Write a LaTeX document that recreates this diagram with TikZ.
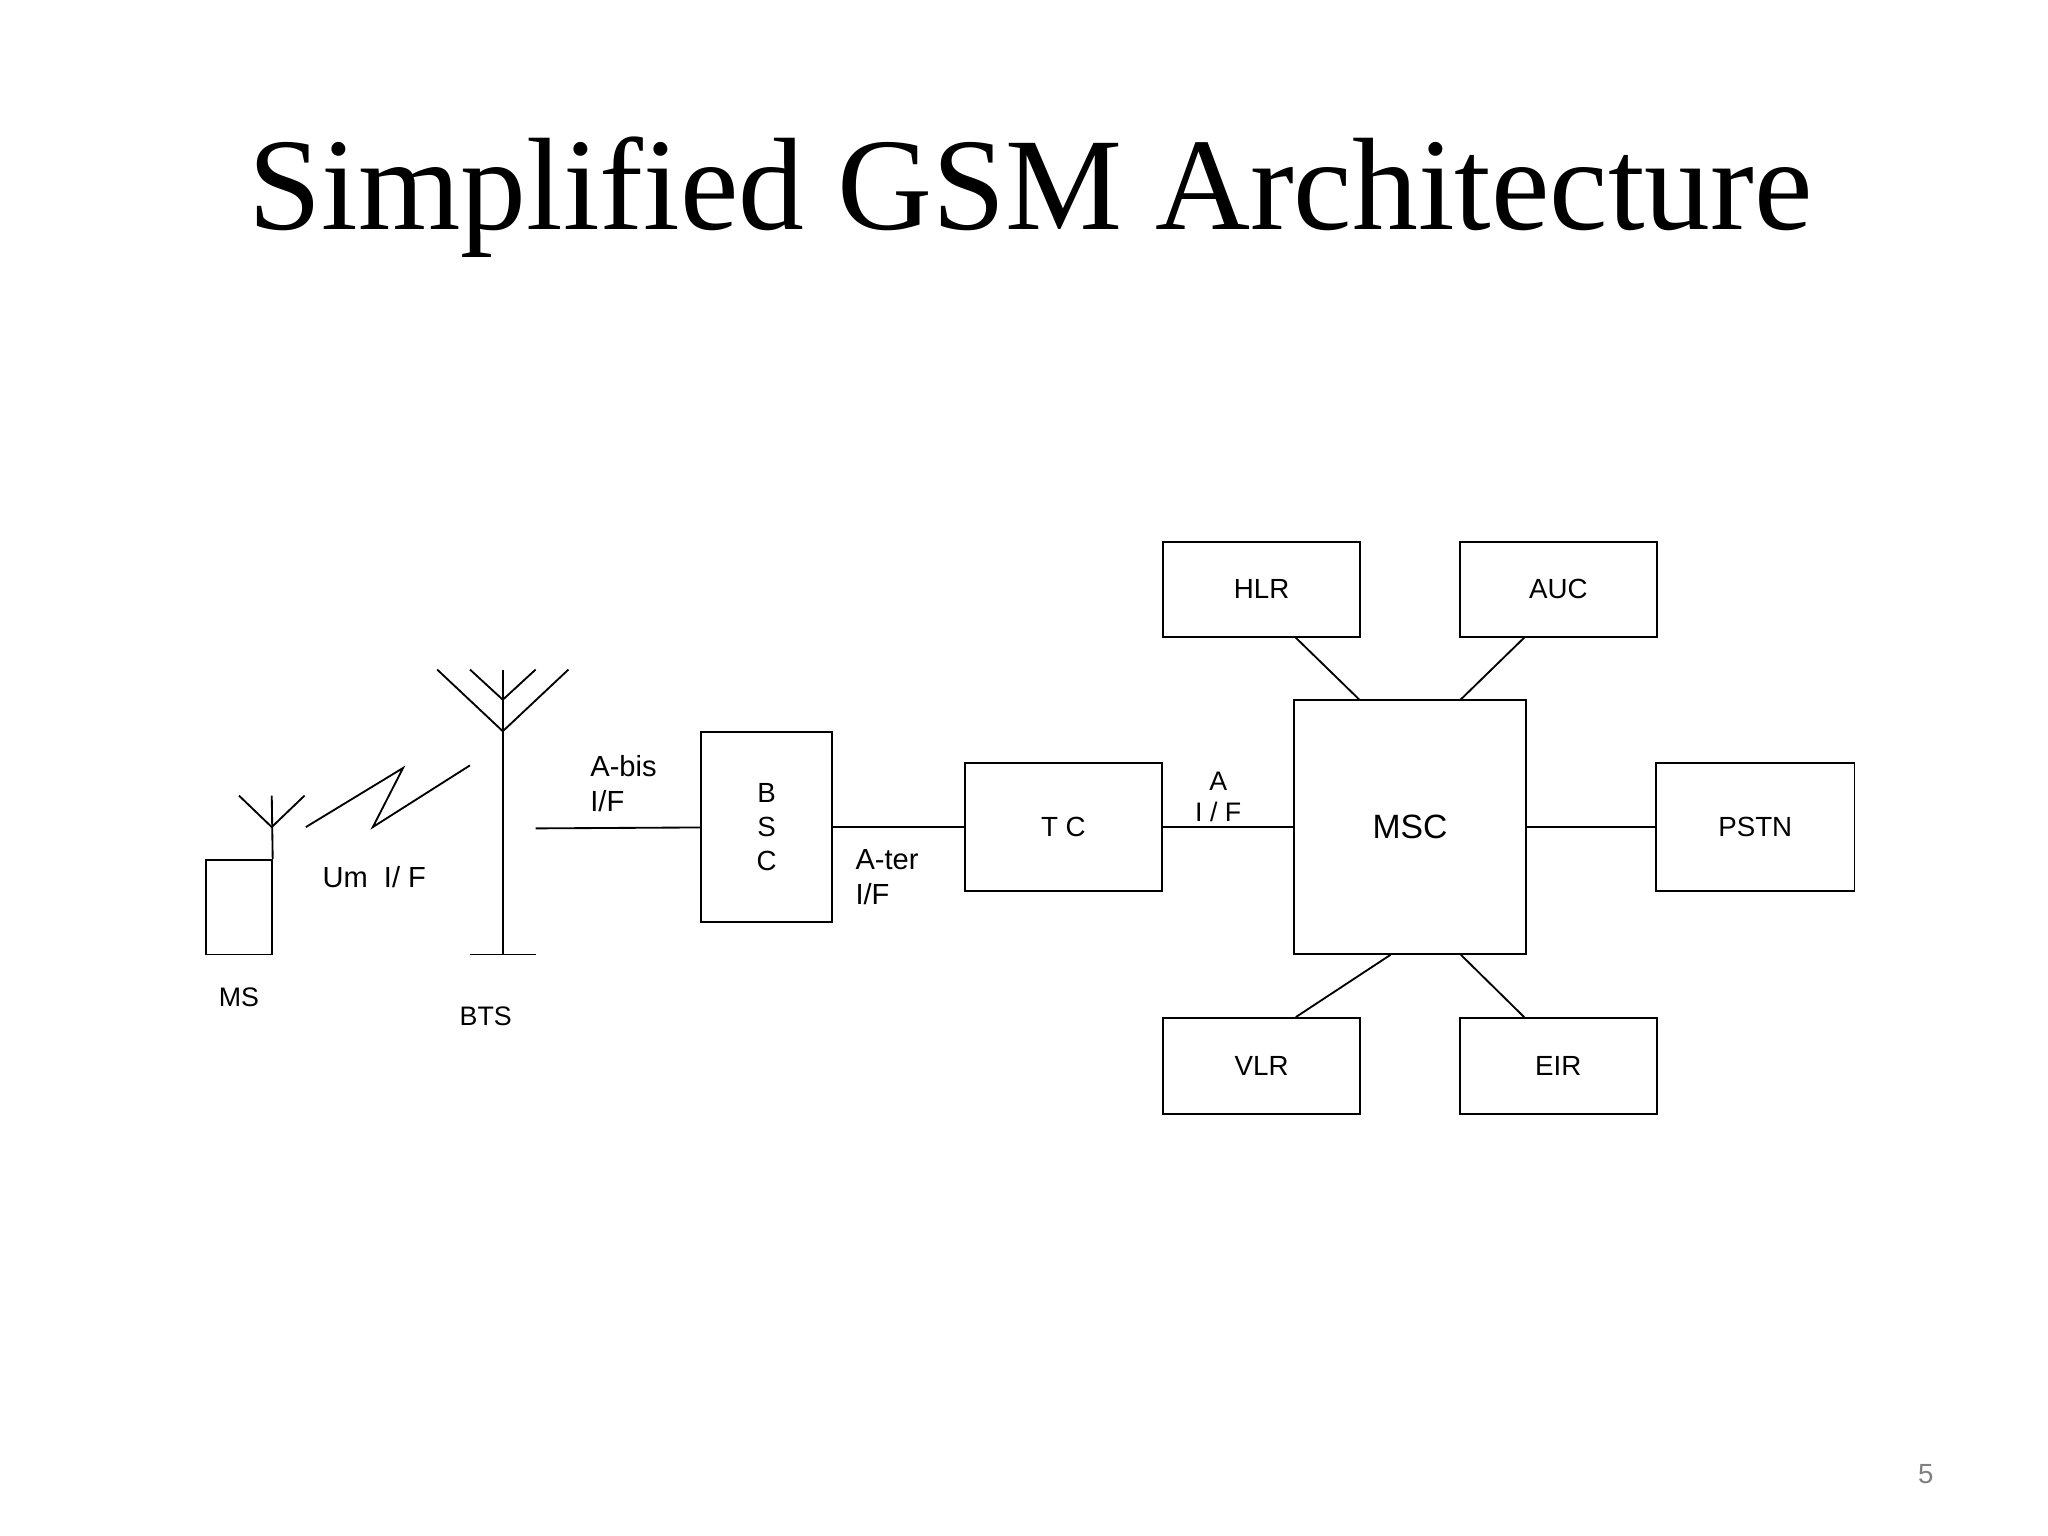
\documentclass[tikz,border=0pt]{standalone}
\usepackage{fontspec}
\setmainfont{Liberation Sans}
\newfontfamily\titlefont{Liberation Serif}
\usetikzlibrary{calc}
\tikzstyle{box} = [rectangle, draw=black, inner sep=0pt, font=\fontsize{6}{7}\selectfont]
\tikzstyle{lbl} = [inner sep=0pt, font=\fontsize{6.3}{7.6}\selectfont]
\tikzstyle{line} = [draw, line width=0.4pt]

\begin{document}
\begin{tikzpicture}[x=0.01cm, y=-0.01cm]
        \useasboundingbox (0,0) rectangle (1560,1170);
        \node at (785,150) {\titlefont\fontsize{28.5}{30}\selectfont Simplified GSM Architecture};
        \node (ms) [box, minimum width=0.5cm, minimum height=0.72cm] at (182,691) {};
        \node (bsc) [box, minimum width=1cm, minimum height=1.45cm, align=center, font=\fontsize{6}{7.4}\selectfont] at (584,630) {B\\S\\C};
        \node (tc) [box, minimum width=1.5cm, minimum height=0.97cm] at (810,630) {T C\hspace{0.25cm}};
        \node (msc) [box, minimum width=1.76cm, minimum height=1.93cm, font=\fontsize{7.3}{8}\selectfont] at (1074,630) {MSC};
        \node (pstn) [box, minimum width=1.51cm, minimum height=0.97cm] at (1337,630) {PSTN\hspace{0.1cm}};
        \node (hlr) [box, minimum width=1.5cm, minimum height=0.72cm] at (961,449) {HLR\hspace{0.25cm}};
        \node (auc) [box, minimum width=1.5cm, minimum height=0.72cm] at (1187,449) {AUC\hspace{0.3cm}};
        \node (vlr) [box, minimum width=1.5cm, minimum height=0.73cm] at (961,812) {\raisebox{-0.1cm}{VLR}\hspace{0.25cm}};
        \node (eir) [box, minimum width=1.5cm, minimum height=0.73cm] at (1187,812) {EIR\hspace{0.35cm}};
        % antennas
        \coordinate (mstop) at (207,606);
        \path [line] (ms.north east) -- (mstop);
        \path [line] (182,606) -- (207,630) -- (232,606);
        \coordinate (btstop) at (383,510);
        \coordinate (btsbase) at (383,727);
        \path [line] (btsbase) -- (btstop);
        \path [line] (358,727) -- (408,727);
        \path [line] (333,510) -- (383,557) -- (433,510);
        \path [line] (358,510) -- (383,533) -- (408,510);
        \path [line] (233,630) -- (307,585) -- (284,630) -- (358,583);
        % links
        \coordinate (bts) at (408,631);
        \path [line] (bts) -- (bsc);
        \path [line] (bsc) -- (tc);
        \path [line] (tc) -- (msc);
        \path [line] (msc) -- (pstn);
        \path [line] ($(hlr.south)+(26,0)$) -- ($(msc.north west)+(50,0)$);
        \path [line] ($(auc.south)+(-26,0)$) -- ($(msc.north east)+(-50,0)$);
        \path [line] ($(msc.south west)+(74,0)$) -- ($(vlr.north)+(26,0)$);
        \path [line] ($(msc.south east)+(-50,0)$) -- ($(eir.north)+(-26,0)$);
        % labels
        \node [lbl, anchor=west, align=left] at (449,597) {A-bis\\I/F};
        \node [lbl, anchor=west, align=left] at (651,668) {A-ter\\I/F};
        \node [lbl, align=center, font=\fontsize{5.8}{6.6}\selectfont] at (928,607) {A\\I / F};
        \node [lbl, anchor=west] at (245,668) {Um\ \ I/ F};
        \node [lbl, font=\fontsize{5.8}{7}\selectfont] at (182,760) {MS};
        \node [lbl, font=\fontsize{5.8}{7}\selectfont] at (370,774) {BTS};
        \node [lbl, text=gray, font=\fontsize{6}{7}\selectfont] at (1467,1123) {5};
    \end{tikzpicture}
\end{document}
